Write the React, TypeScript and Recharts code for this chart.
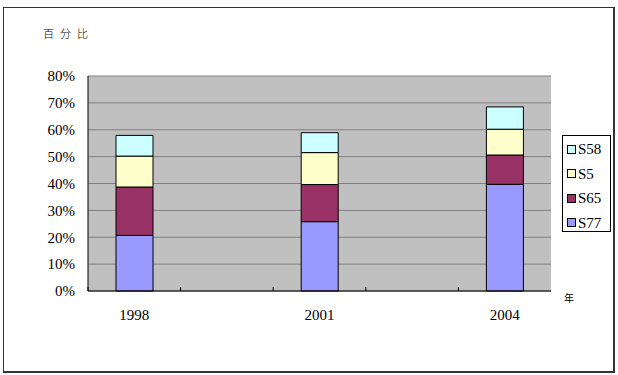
import { BarChart, Bar, XAxis, YAxis, CartesianGrid } from "recharts";

// categories: the blank slots are empty columns in the original sheet
const years = ["1998", "", "2001", "", "2004"];
const s77 = [20.7, null, 25.8, null, 39.7];
const s65 = [18.0, null, 13.8, null, 10.9];
const s5 = [11.5, null, 11.9, null, 9.6];
const s58 = [7.7, null, 7.4, null, 8.3];
const yTicks = [0, 10, 20, 30, 40, 50, 60, 70, 80];

const series = [
  { key: "S77", values: s77, color: "#9999FF" },
  { key: "S65", values: s65, color: "#993366" },
  { key: "S5", values: s5, color: "#FFFFCC" },
  { key: "S58", values: s58, color: "#CCFFFF" },
];

const data = years.map((year, i) => {
  const row: Record<string, string | number | null> = { year };
  series.forEach((s) => {
    row[s.key] = s.values[i];
  });
  return row;
});

const W = 618;
const H = 375;
const PLOT_LEFT = 88;
const PLOT_RIGHT = 551;
const PLOT_TOP = 76;
const PLOT_BOTTOM = 291;
const BAND = (PLOT_RIGHT - PLOT_LEFT) / years.length;
const FONT = "Times New Roman, Liberation Serif, serif";

function XTick(props: any) {
  const { x, y, payload } = props;
  return (
    <g>
      <line x1={x - BAND / 2} y1={y} x2={x - BAND / 2} y2={y - 4} stroke="#000" />
      <text
        x={x}
        y={y + 29}
        textAnchor="middle"
        style={{ fontFamily: FONT, fontSize: 15 }}
        fill="#000"
      >
        {payload.value}
      </text>
    </g>
  );
}

function ChartLegend() {
  return (
    <div
      style={{
        position: "absolute",
        left: 562,
        top: 135,
        width: 47,
        height: 95,
        border: "1px solid #000",
        background: "#fff",
        fontFamily: FONT,
        fontSize: 15,
      }}
    >
      {[...series].reverse().map((s, i) => (
        <div
          key={s.key}
          style={{
            position: "absolute",
            left: 4,
            top: 5 + i * 24.5,
            display: "flex",
            alignItems: "center",
            height: 16,
            lineHeight: "16px",
          }}
        >
          <span
            style={{
              display: "inline-block",
              width: 7,
              height: 7,
              border: "1px solid #000",
              background: s.color,
              marginRight: 2,
            }}
          />
          {s.key}
        </div>
      ))}
    </div>
  );
}

export default function App() {
  return (
    <div style={{ position: "absolute", left: 0, top: 0, width: W, height: H, background: "#fff" }}>
      <div
        style={{
          position: "absolute",
          left: 3,
          top: 7,
          width: 609,
          height: 363,
          border: "1px solid #333",
          borderRightWidth: 2,
          borderBottomWidth: 2,
        }}
      />
      <div
        style={{
          position: "absolute",
          left: 43,
          top: 25,
          fontFamily: "'Noto Sans CJK SC', sans-serif",
          fontWeight: 300,
          fontSize: 11,
          letterSpacing: 6,
          color: "#000",
        }}
      >
        百分比
      </div>
      <div
        style={{
          position: "absolute",
          left: 564,
          top: 290,
          fontFamily: "'Noto Sans CJK SC', sans-serif",
          fontSize: 10,
          color: "#000",
        }}
      >
        年
      </div>
      <div style={{ position: "absolute", left: 0, top: 0 }}>
        <BarChart
          width={W}
          height={H}
          data={data}
          margin={{ top: PLOT_TOP, right: W - PLOT_RIGHT, bottom: 0, left: 0 }}
        >
          <CartesianGrid vertical={false} stroke="#808080" fill="#C0C0C0" fillOpacity={1} />
          <XAxis
            dataKey="year"
            height={H - PLOT_BOTTOM}
            tickSize={0}
            tickMargin={0}
            tick={<XTick />}
            axisLine={{ stroke: "#000" }}
            interval={0}
          />
          <YAxis
            domain={[0, 80]}
            ticks={yTicks}
            width={PLOT_LEFT}
            tickSize={0}
            tickMargin={13}
            tickFormatter={(v) => `${v}%`}
            tick={{ fill: "#000", style: { fontFamily: FONT, fontSize: 15 } }}
            axisLine={{ stroke: "#000" }}
          />
          <YAxis
            yAxisId="right"
            orientation="right"
            domain={[0, 80]}
            width={0}
            tick={false}
            tickLine={false}
            axisLine={{ stroke: "#808080" }}
          />
          {series.map((s) => (
            <Bar
              key={s.key}
              dataKey={s.key}
              stackId="a"
              fill={s.color}
              stroke="#000"
              strokeWidth={1}
              barSize={37}
              isAnimationActive={false}
            />
          ))}
        </BarChart>
      </div>
      <ChartLegend />
    </div>
  );
}
